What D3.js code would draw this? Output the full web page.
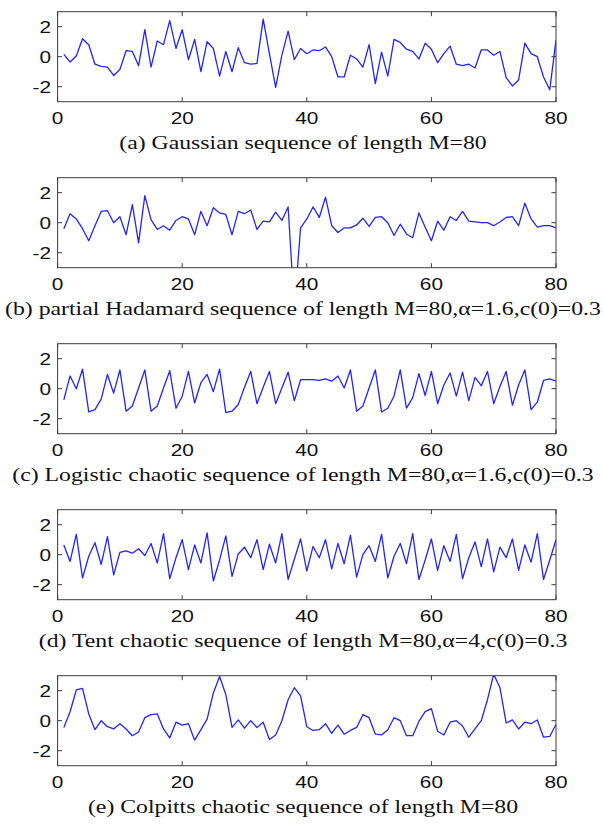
<!DOCTYPE html>
<html><head><meta charset="utf-8">
<script src="https://cdn.jsdelivr.net/npm/d3@7"></script>
<style>body{margin:0;background:#fff}svg{display:block}</style>
</head><body><svg id="chart" width="604" height="824"></svg>
<script>
const gaussian = [0.15,-0.35,0.05,1.2,0.8,-0.5,-0.65,-0.7,-1.25,-0.85,
0.4,0.35,-0.6,1.8,-0.7,1.05,0.8,2.4,0.55,1.8,
-0.2,1.15,-1.0,1.0,0.55,-1.3,0.35,-1.0,0.6,-0.4,
-0.5,-0.45,2.5,0.2,-2.05,0.1,1.7,-0.2,0.55,0.2,
0.45,0.4,0.65,0,-1.35,-1.35,0.1,-0.15,-0.7,0.8,
-1.8,0.3,-1.3,1.15,0.95,0.5,0.35,-0.15,0.9,0.5,
-0.4,0.2,0.7,-0.5,-0.6,-0.5,-0.75,0.45,0.45,0.1,
0.35,-1.4,-1.95,-1.55,0.9,0.2,0,-1.35,-2.2,1.1];
const hadamard = [-0.4,0.6,0.25,-0.4,-1.2,-0.2,0.75,0.8,0,0.4,
-0.8,1.2,-1.35,1.8,0.2,-0.45,-0.2,-0.5,0.15,0.4,
0.25,-0.8,0.75,-0.2,1.0,0.65,0.55,-0.8,0.75,0.6,
0.85,-0.45,0.1,0.05,0.7,0.15,1.05,-5.7,-0.35,0.25,
1.05,0.35,1.7,-0.2,-0.65,-0.35,-0.35,-0.15,0.3,-0.25,
0.35,0.4,0,-0.85,-0.1,-0.75,-1.0,0.65,-0.3,-1.2,
0.1,-0.5,0.4,0.15,0.75,0.1,0.05,0,0,-0.2,
0.05,0.35,0.4,-0.2,1.3,0.25,-0.3,-0.2,-0.2,-0.35];
const logistic = [-0.75,0.85,0,1.3,-1.55,-1.4,-0.7,0.95,-0.3,1.25,
-1.5,-1.15,0.05,1.25,-1.5,-1.15,0.05,1.2,-1.3,-0.5,
1.15,-0.95,0.4,0.95,-0.2,1.3,-1.6,-1.5,-1.05,0.1,
1.15,-1.0,0.1,1.15,-1.0,0.05,1.1,-0.8,0.6,0.6,
0.6,0.55,0.65,0.5,0.85,0.05,1.25,-1.5,-1.15,0.05,
1.25,-1.55,-1.3,-0.5,1.25,-1.3,-0.6,1.0,-0.45,1.15,
-1.0,0.25,1.05,-0.5,1.1,-0.8,0.75,0.2,1.15,-1.0,
0.15,1.15,-1.1,0.25,1.25,-1.4,-0.9,0.55,0.65,0.5];
const tent = [0.65,-0.45,1.35,-1.55,-0.1,0.8,-0.65,1.2,-1.35,0.15,
0.25,0.1,0.4,-0.05,0.75,-0.55,1.4,-1.6,-0.2,1.0,
-1.0,0.65,-0.55,1.45,-1.75,-0.35,1.25,-1.45,0.05,0.5,
-0.2,1.0,-1.0,0.7,-0.55,1.4,-1.65,-0.3,1.05,-1.1,
0.55,-0.2,1.0,-0.95,0.75,-0.6,1.3,-1.5,0,0.6,
-0.45,1.35,-1.55,-0.1,0.75,-0.6,1.4,-1.65,-0.35,1.05,
-1.05,0.6,-0.45,1.35,-1.6,-0.2,0.85,-0.8,1.05,-1.15,
0.5,-0.2,1.05,-1.05,0.65,-0.5,1.4,-1.65,-0.35,1.0];
const colpitts = [-0.45,0.6,2.05,2.15,0.45,-0.6,0,-0.4,-0.55,-0.2,
-0.55,-1.0,-0.75,0.2,0.4,0.45,-0.55,-1.15,-0.1,-0.3,
-0.2,-1.3,-0.6,0.1,1.85,2.95,1.75,-0.45,0.05,-0.5,
0,-0.45,-0.1,-1.25,-0.95,0,1.4,2.2,1.65,-0.4,
-0.65,-0.6,-0.2,-0.85,-0.3,-0.9,-0.65,-0.45,0.4,0.2,
-0.9,-0.95,-0.6,0.2,0,-1.0,-1.0,-0.05,0.6,0.8,
-0.7,-0.95,-0.1,0,-0.35,-1.1,-0.55,0,1.4,3.1,
2.2,-0.15,0.05,-0.55,-0.1,-0.2,0.05,-1.1,-1.05,-0.25];
const captions = [
  "(a) Gaussian sequence of length M=80",
  "(b) partial Hadamard sequence of length M=80,\u03b1=1.6,c(0)=0.3",
  "(c) Logistic chaotic sequence of length M=80,\u03b1=1.6,c(0)=0.3",
  "(d) Tent chaotic sequence of length M=80,\u03b1=4,c(0)=0.3",
  "(e) Colpitts chaotic sequence of length M=80"
];
const xTicks = [0,20,40,60,80];
const yTicks = [-2,0,2];
const xDomain = [0,80];
const yDomain = [-3,3];

const series = [gaussian, hadamard, logistic, tent, colpitts];

const svg = d3.select("#chart");
const left = 57.6, right = 556, top0 = 11.7, step = 166, h = 90;
const x = d3.scaleLinear().domain(xDomain).range([left, right]);
const axisColor = "#3a3a3a";
const tickLen = 4.5;
const labelScale = 1.3, capScale = 1.25;

series.forEach((vals, i) => {
  const t = top0 + step*i;
  const y = d3.scaleLinear().domain(yDomain).range([t+h, t]);
  const g = svg.append("g");
  const clipId = "clip"+i;
  svg.append("clipPath").attr("id", clipId).append("rect")
    .attr("x", left).attr("y", t).attr("width", right-left).attr("height", h);

  const line = d3.line().x((d,j)=>x(j+1)).y(d=>y(d));
  g.append("path").datum(vals).attr("d", line)
    .attr("clip-path", `url(#${clipId})`)
    .attr("fill","none").attr("stroke","#2323ff").attr("stroke-width",1.3)
    .attr("stroke-linejoin","round");

  const ax = g.append("g").attr("stroke", axisColor).attr("fill","none");
  ax.append("rect").attr("x", left).attr("y", t).attr("width", right-left).attr("height", h)
    .attr("stroke-width", 1);
  xTicks.forEach(v => {
    ax.append("line").attr("x1", x(v)).attr("x2", x(v)).attr("y1", t+h).attr("y2", t+h-tickLen);
    ax.append("line").attr("x1", x(v)).attr("x2", x(v)).attr("y1", t).attr("y2", t+tickLen);
  });
  yTicks.forEach(v => {
    ax.append("line").attr("x1", left).attr("x2", left+tickLen).attr("y1", y(v)).attr("y2", y(v));
    ax.append("line").attr("x1", right).attr("x2", right-tickLen).attr("y1", y(v)).attr("y2", y(v));
  });

  xTicks.forEach(v => {
    g.append("text").attr("transform", `translate(${x(v)},${t+h+22}) scale(${labelScale},1)`)
      .attr("text-anchor","middle").attr("font-family","Liberation Sans, Arial, sans-serif")
      .attr("font-size",16).attr("fill","#111").text(v);
  });
  yTicks.forEach(v => {
    g.append("text").attr("transform", `translate(51,${y(v)+5.8}) scale(${labelScale},1)`)
      .attr("text-anchor","end").attr("font-family","Liberation Sans, Arial, sans-serif")
      .attr("font-size",16).attr("fill","#111").text(v);
  });

  g.append("text").attr("transform", `translate(303,${t+h+47.5}) scale(${capScale},1)`)
    .attr("text-anchor","middle").attr("font-family","Liberation Serif, Times New Roman, serif")
    .attr("font-size",19).attr("fill","#111").text(captions[i]);
});
</script>
</body></html>
